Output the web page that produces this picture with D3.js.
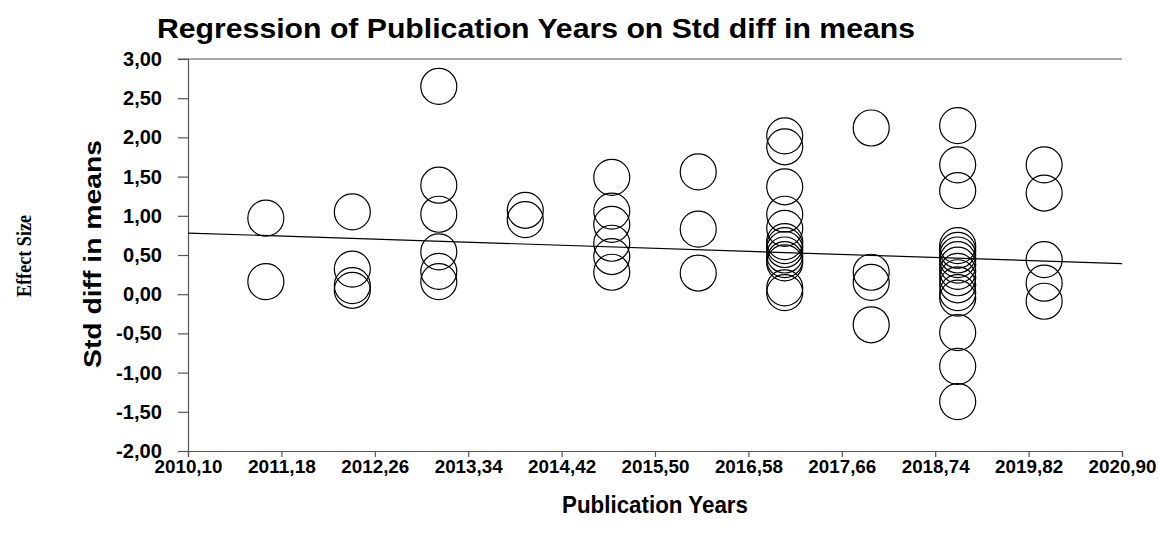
<!DOCTYPE html>
<html><head><meta charset="utf-8">
<script src="https://cdn.jsdelivr.net/npm/d3@7"></script>
<style>body{margin:0;background:#fff}svg{display:block}</style>
</head><body>
<svg id="c" width="1159" height="540"></svg>
<script>
// ---- data ----
const studyYears = [
  2011,2011,
  2012,2012,2012,2012,
  2013,2013,2013,2013,2013,2013,
  2014,2014,
  2015,2015,2015,2015,2015,2015,
  2016,2016,2016,
  2017,2017,2017,2017,2017,2017,2017,2017,2017,2017,2017,2017,2017,
  2018,2018,2018,2018,
  2019,2019,2019,2019,2019,2019,2019,2019,2019,2019,2019,2019,2019,2019,2019,2019,
  2020,2020,2020,2020,2020
];
const stdDiff = [
  0.97,0.16,
  1.05,0.32,0.11,0.05,
  2.65,1.39,1.02,0.54,0.29,0.16,
  1.07,0.95,
  1.49,1.06,0.89,0.65,0.48,0.28,
  1.56,0.83,0.27,
  2.02,1.88,1.37,1.02,0.84,0.67,0.62,0.57,0.50,0.44,0.40,0.08,0.02,
  2.12,0.28,0.15,-0.39,
  2.15,1.65,1.32,0.62,0.56,0.50,0.44,0.37,0.29,0.21,0.12,0.02,-0.05,-0.49,-0.92,-1.37,
  1.65,1.29,0.44,0.14,-0.09
];
const regressionX = [2010.10, 2020.90];
const regressionY = [0.78, 0.39];
const xTicks = [2010.10,2011.18,2012.26,2013.34,2014.42,2015.50,2016.58,2017.66,2018.74,2019.82,2020.90];
const yTicks = [-2,-1.5,-1,-0.5,0,0.5,1,1.5,2,2.5,3];

// ---- chart ----
const svg = d3.select("#c");
const L = 188, R = 1122, T = 59, B = 451;
const x = d3.scaleLinear().domain([2010.10, 2020.90]).range([L, R]);
const y = d3.scaleLinear().domain([-2, 3]).range([B, T]);
const fmt = v => d3.format(".2f")(v).replace(".", ",").replace("−","-");
const axisColor = "#555";
const sans = "'Liberation Sans', Arial, sans-serif";

// top border line
svg.append("line").attr("x1", L - 10).attr("x2", R).attr("y1", T).attr("y2", T)
  .attr("stroke", axisColor).attr("stroke-width", 1.2);

// y axis
const gy = svg.append("g").attr("transform", `translate(${L},0)`)
  .call(d3.axisLeft(y).tickValues(yTicks).tickFormat(fmt).tickSize(10).tickPadding(16));
// x axis
const gx = svg.append("g").attr("transform", `translate(0,${B})`)
  .call(d3.axisBottom(x).tickValues(xTicks).tickFormat(fmt).tickSize(6).tickPadding(3));
[gx, gy].forEach(g => {
  g.select(".domain").attr("stroke", axisColor).attr("stroke-width", 1.2);
  g.selectAll(".tick line").attr("stroke", axisColor).attr("stroke-width", 1.2);
  g.selectAll(".tick text").attr("fill", "#000")
    .style("font-family", sans)
    .style("font-weight", "bold").style("font-size", "20px");
});
gx.selectAll(".tick text").style("font-size", "19px")
  .attr("textLength", 68).attr("lengthAdjust", "spacingAndGlyphs");
gy.selectAll(".tick text").each(function(d) {
  d3.select(this).attr("textLength", d < 0 ? 46 : 39).attr("lengthAdjust", "spacingAndGlyphs");
});

// regression line
svg.append("line")
  .attr("x1", x(regressionX[0])).attr("y1", y(regressionY[0]))
  .attr("x2", x(regressionX[1])).attr("y2", y(regressionY[1]))
  .attr("stroke", "#000").attr("stroke-width", 1.2);

// circles
svg.append("g").selectAll("circle").data(studyYears.map((yr, i) => [yr, stdDiff[i]]))
  .join("circle")
  .attr("cx", d => x(d[0])).attr("cy", d => y(d[1])).attr("r", 18)
  .attr("fill", "none").attr("stroke", "#000").attr("stroke-width", 1.2);

// titles
svg.append("text").attr("x", 157).attr("y", 38)
  .attr("textLength", 758).attr("lengthAdjust", "spacingAndGlyphs")
  .style("font-family", sans)
  .style("font-weight", "bold").style("font-size", "28px")
  .text("Regression of Publication Years on Std diff in means");

svg.append("text").attr("x", 655).attr("y", 513).attr("text-anchor", "middle")
  .attr("textLength", 186).attr("lengthAdjust", "spacingAndGlyphs")
  .style("font-family", sans)
  .style("font-weight", "bold").style("font-size", "24px")
  .text("Publication Years");

svg.append("text").attr("transform", "translate(101,254) rotate(-90)").attr("text-anchor", "middle")
  .attr("textLength", 228).attr("lengthAdjust", "spacingAndGlyphs")
  .style("font-family", sans)
  .style("font-weight", "bold").style("font-size", "24px")
  .text("Std diff in means");

svg.append("text").attr("transform", "translate(31,256) rotate(-90)").attr("text-anchor", "middle")
  .attr("textLength", 82).attr("lengthAdjust", "spacingAndGlyphs")
  .style("font-family", "'Liberation Serif', 'Times New Roman', serif")
  .style("font-weight", "bold").style("font-size", "22px")
  .text("Effect Size");
</script>
</body></html>
